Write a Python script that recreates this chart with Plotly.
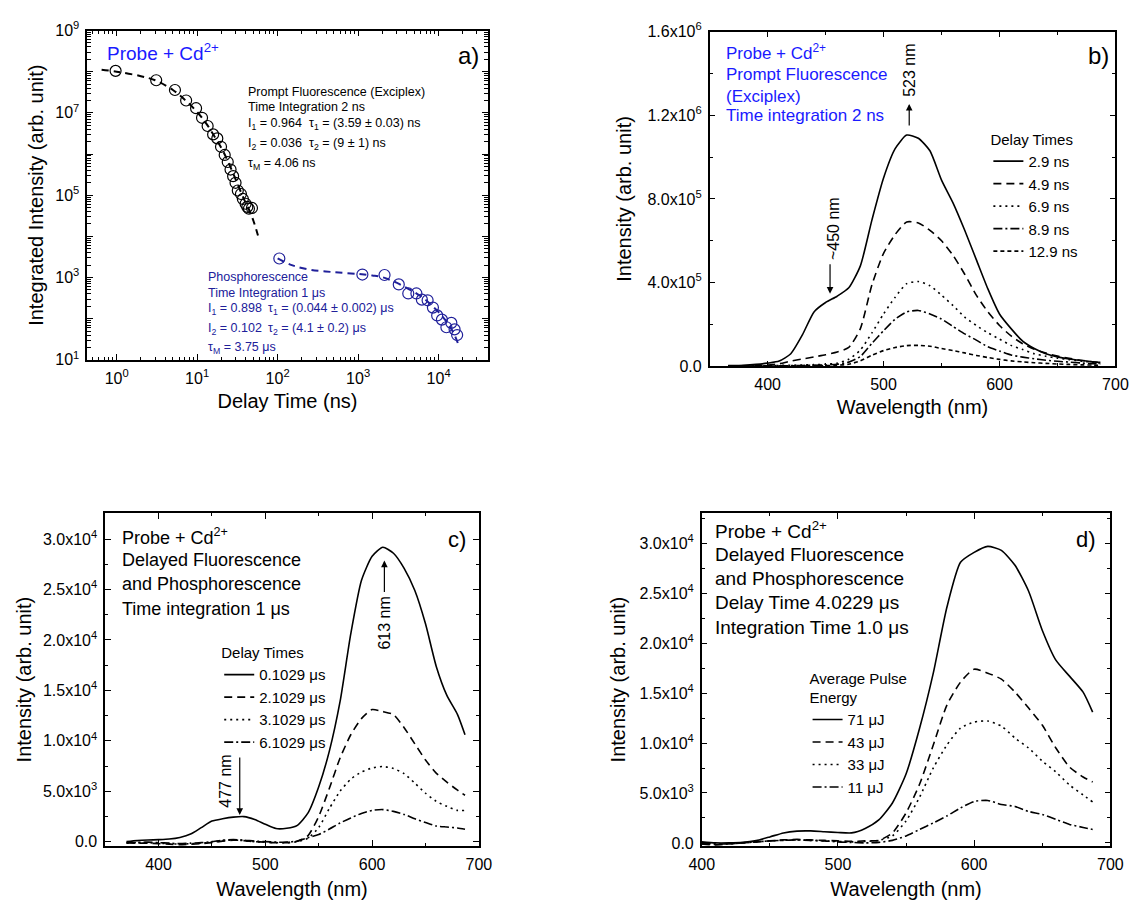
import plotly.graph_objects as go

W, H = 1147, 908
FONT = "Liberation Sans, Arial, Helvetica, sans-serif"
BLUE = "#1a1aff"
NAVY = "#20209a"

# ---------------- Panel a: decay curves ----------------
t_prompt = [0.97, 3.1, 5.3, 7.3, 9.7, 11.5, 13.5, 15.8, 17.8, 19.8, 22, 24, 26, 28, 30,
            32, 35, 37, 40, 42, 44, 48]
I_prompt = [1.05e8, 6.2e7, 3.6e7, 2.0e7, 1.3e7, 7.6e6, 4.8e6, 3.0e6, 2.4e6, 1.5e6, 9.5e5,
            6.4e5, 4.2e5, 2.9e5, 2.0e5, 1.3e5, 1.07e5, 8.1e4, 6.2e4, 5.2e4, 4.7e4, 4.9e4]
t_fit_prompt = [0.65, 1, 2, 3, 5, 7, 10, 13, 16, 20, 24, 28, 32, 36, 40, 44, 50, 57]
I_fit_prompt = [1.12e8, 1.0e8, 7.8e7, 6.2e7, 3.6e7, 2.1e7, 1.05e7, 5.5e6, 2.9e6, 1.4e6,
                6.8e5, 3.4e5, 1.8e5, 1.05e5, 6.6e4, 4.5e4, 2.4e4, 1.05e4]

t_phos = [105, 1130, 2130, 3200, 4200, 5300, 6200, 7300, 8500, 9600, 11000, 12500, 14400,
          15800, 17000]
I_phos = [2.9e3, 1.18e3, 1.15e3, 6.8e2, 4.1e2, 4.1e2, 2.9e2, 2.8e2, 1.86e2, 1.2e2, 95, 62,
          79, 55, 40]
t_fit_phos = [100, 150, 250, 500, 1000, 1500, 2000, 3000, 4000, 5000, 6000, 7000, 8000,
              10000, 12000, 14000, 16000, 17800]
I_fit_phos = [2.9e3, 2.0e3, 1.55e3, 1.35e3, 1.22e3, 1.12e3, 1.02e3, 7.5e2, 5.6e2, 4.4e2,
              3.5e2, 2.8e2, 2.2e2, 1.45e2, 9.5e1, 6.2e1, 3.8e1, 2.2e1]

log_tickvals_x = [1, 10, 100, 1000, 10000]
log_ticktext_x = ["10<sup>0</sup>", "10<sup>1</sup>", "10<sup>2</sup>", "10<sup>3</sup>", "10<sup>4</sup>"]
log_tickvals_y = [1e1, 1e2, 1e3, 1e4, 1e5, 1e6, 1e7, 1e8, 1e9]
log_ticktext_y = ["10<sup>1</sup>", "", "10<sup>3</sup>", "", "10<sup>5</sup>", "",
                  "10<sup>7</sup>", "", "10<sup>9</sup>"]

# ---------------- Panel b: prompt fluorescence ----------------
wl_b = [366, 380, 390, 400, 410, 420, 430, 440, 450, 460, 470, 480, 490, 500, 510, 520, 530,
        540, 550, 560, 570, 580, 590, 600, 610, 620, 630, 640, 650, 660, 670, 680, 687]
b_29 = [3e3, 5e3, 9e3, 1.5e4, 2.5e4, 6.0e4, 1.5e5, 2.6e5, 3.05e5, 3.35e5, 3.75e5, 4.8e5,
        7.0e5, 9.0e5, 1.04e6, 1.105e6, 1.09e6, 1.03e6, 8.9e5, 7.8e5, 6.5e5, 5.1e5, 3.7e5,
        2.5e5, 1.8e5, 1.2e5, 8.5e4, 6.0e4, 4.5e4, 3.5e4, 2.8e4, 2.2e4, 1.9e4]
b_49 = [2e3, 3e3, 4e3, 6e3, 1.2e4, 2.5e4, 3.5e4, 4.5e4, 5.5e4, 6.8e4, 9e4, 1.8e5, 3.9e5,
        5.4e5, 6.3e5, 6.9e5, 6.85e5, 6.5e5, 6.0e5, 5.3e5, 4.4e5, 3.4e5, 2.6e5, 1.95e5, 1.45e5,
        1.08e5, 8.2e4, 6.3e4, 4.9e4, 3.8e4, 2.9e4, 2.2e4, 1.8e4]
b_69 = [1e3, 1e3, 2e3, 3e3, 4e3, 5e3, 6e3, 8e3, 1.0e4, 1.5e4, 3.4e4, 7.8e4, 1.6e5, 2.5e5,
        3.3e5, 3.95e5, 4.05e5, 3.85e5, 3.4e5, 2.9e5, 2.35e5, 1.95e5, 1.6e5, 1.3e5, 1.0e5,
        8.0e4, 6.0e4, 4.8e4, 3.9e4, 3.2e4, 2.5e4, 2.0e4, 1.6e4]
b_89 = [1e3, 1e3, 1e3, 2e3, 2e3, 3e3, 4e3, 5e3, 6e3, 1.0e4, 2.0e4, 4.7e4, 1.1e5, 1.7e5,
        2.25e5, 2.6e5, 2.67e5, 2.5e5, 2.26e5, 1.9e5, 1.55e5, 1.25e5, 9.3e4, 7.3e4, 5.4e4,
        4.4e4, 3.6e4, 2.9e4, 2.4e4, 2.0e4, 1.6e4, 1.3e4, 1.1e4]
b_129 = [0, 0, 1e3, 1e3, 1e3, 2e3, 2e3, 3e3, 3e3, 5e3, 1.0e4, 2.6e4, 5.3e4, 7.5e4, 9.0e4,
         9.9e4, 1.0e5, 9.6e4, 8.5e4, 7.5e4, 6.4e4, 5.2e4, 4.2e4, 3.3e4, 2.6e4, 2.1e4, 1.7e4,
         1.4e4, 1.1e4, 9e3, 7e3, 6e3, 5e3]
b_names = ["2.9 ns", "4.9 ns", "6.9 ns", "8.9 ns", "12.9 ns"]
b_tickvals = [0, 4e5, 8e5, 1.2e6, 1.6e6]
b_ticktext = ["0.0", "4.0x10<sup>5</sup>", "8.0x10<sup>5</sup>", "1.2x10<sup>6</sup>", "1.6x10<sup>6</sup>"]

# ---------------- Panel c: delayed fluorescence vs delay ----------------
wl_c = [370, 380, 390, 400, 410, 420, 430, 440, 450, 460, 470, 480, 490, 500, 510, 520, 530,
        540, 550, 560, 570, 580, 590, 600, 610, 620, 630, 640, 650, 660, 670, 680, 687]
c_01 = [0, 100, 160, 200, 260, 420, 750, 1390, 2040, 2270, 2430, 2480, 2200, 1720, 1300,
        1330, 1620, 2850, 5440, 9000, 13900, 20600, 25900, 28300, 29200, 28600, 27100, 24900,
        21600, 17400, 14500, 12600, 10600]
c_21 = [-100, -150, -150, -200, -250, -300, -250, -200, -100, 50, 150, 100, 0, -50, -100,
        -100, 50, 600, 2500, 5300, 8300, 10600, 12200, 13100, 12900, 12600, 11300, 9700,
        8100, 6800, 5900, 5100, 4600]
c_31 = [-150, -100, -100, -150, -200, -250, -200, -150, -50, 100, 150, 100, 0, -50, -100,
        -100, 0, 350, 1400, 3300, 5000, 6200, 6900, 7300, 7450, 7250, 6750, 5800, 4800, 4000,
        3500, 3100, 3100]
c_61 = [-100, -100, -50, -100, -150, -200, -150, -100, 0, 150, 200, 150, 50, 0, -50, -50, 50,
        400, 700, 1250, 1850, 2350, 2800, 3100, 3180, 3000, 2700, 2270, 1900, 1550, 1450,
        1350, 1230]
c_names = ["0.1029 \u03bcs", "2.1029 \u03bcs", "3.1029 \u03bcs", "6.1029 \u03bcs"]

# ---------------- Panel d: pulse energy ----------------
wl_d = [400, 410, 420, 430, 440, 450, 460, 470, 480, 490, 500, 510, 520, 530, 540, 550, 560,
        570, 580, 590, 600, 610, 620, 630, 640, 650, 660, 670, 680, 687]
d_71 = [100, 0, 0, 50, 230, 600, 1000, 1180, 1200, 1120, 1040, 1000, 1450, 2300, 4000, 6900,
        11500, 17000, 23600, 28100, 29100, 29700, 29300, 27800, 25200, 21300, 18300, 16700,
        15100, 13100]
d_43 = [-100, -200, -100, 0, 100, 200, 300, 350, 300, 250, 200, 150, 200, 250, 1000, 3000,
        5900, 9800, 13800, 16100, 17400, 17000, 16400, 15100, 13500, 11800, 9500, 7600, 6600,
        6100]
d_33 = [-100, -150, -100, 0, 100, 200, 250, 300, 250, 200, 150, 100, 150, 250, 700, 2200,
        4600, 7500, 9800, 11500, 12100, 12200, 11700, 10500, 9500, 8200, 7100, 5800, 4800,
        4100]
d_11 = [0, -100, -100, 0, 100, 200, 250, 300, 250, 200, 100, 50, 0, 50, 250, 700, 1350, 2000,
        2700, 3500, 4150, 4250, 3850, 3650, 3150, 2850, 2350, 1850, 1550, 1350]
d_names = ["71 \u03bcJ", "43 \u03bcJ", "33 \u03bcJ", "11 \u03bcJ"]

cd_tickvals = [0, 5000, 10000, 15000, 20000, 25000, 30000]
cd_ticktext = ["0.0", "5.0x10<sup>3</sup>", "1.0x10<sup>4</sup>", "1.5x10<sup>4</sup>",
               "2.0x10<sup>4</sup>", "2.5x10<sup>4</sup>", "3.0x10<sup>4</sup>"]
wl_tickvals = [400, 500, 600, 700]

DASHES = ["solid", "8px,5px", "2px,4px", "9px,3px,2px,3px", "4px,3px"]


def fx(x):
    return x / W


def fy(y):
    return 1 - y / H


fig = go.Figure()

# panel a
fig.add_trace(go.Scatter(x=t_fit_prompt, y=I_fit_prompt, mode="lines", xaxis="x", yaxis="y",
                         line=dict(color="black", width=2, dash="7px,5px", shape="spline"),
                         showlegend=False))
fig.add_trace(go.Scatter(x=t_prompt, y=I_prompt, mode="markers", xaxis="x", yaxis="y",
                         marker=dict(symbol="circle-open", size=11, color="black",
                                     line=dict(width=1.2, color="black")),
                         showlegend=False))
fig.add_trace(go.Scatter(x=t_fit_phos, y=I_fit_phos, mode="lines", xaxis="x", yaxis="y",
                         line=dict(color=NAVY, width=2, dash="7px,5px", shape="spline"),
                         showlegend=False))
fig.add_trace(go.Scatter(x=t_phos, y=I_phos, mode="markers", xaxis="x", yaxis="y",
                         marker=dict(symbol="circle-open", size=11, color=NAVY,
                                     line=dict(width=1.2, color=NAVY)),
                         showlegend=False))

# panel b
for ys, nm, ds in zip([b_29, b_49, b_69, b_89, b_129], b_names, DASHES):
    fig.add_trace(go.Scatter(x=wl_b, y=ys, name=nm, mode="lines", xaxis="x2", yaxis="y2",
                             line=dict(color="black", width=1.6, dash=ds, shape="spline",
                                       smoothing=0.6),
                             legend="legend"))

# panel c
for ys, nm, ds in zip([c_01, c_21, c_31, c_61], c_names, DASHES[:4]):
    fig.add_trace(go.Scatter(x=wl_c, y=ys, name=nm, mode="lines", xaxis="x3", yaxis="y3",
                             line=dict(color="black", width=1.6, dash=ds, shape="spline",
                                       smoothing=0.6),
                             legend="legend2"))

# panel d
for ys, nm, ds in zip([d_71, d_43, d_33, d_11], d_names, DASHES[:4]):
    fig.add_trace(go.Scatter(x=wl_d, y=ys, name=nm, mode="lines", xaxis="x4", yaxis="y4",
                             line=dict(color="black", width=1.6, dash=ds, shape="spline",
                                       smoothing=0.6),
                             legend="legend3"))

common = dict(showline=True, linecolor="black", linewidth=1.5, mirror="allticks",
              ticks="inside", ticklen=6, tickwidth=1.2, tickcolor="black",
              showgrid=False, zeroline=False,
              tickfont=dict(size=16, color="black", family=FONT),
              title_font=dict(size=20, color="black", family=FONT),
              ticklabelstandoff=3)
minor_lin = dict(ticks="inside", ticklen=3.5, tickwidth=1, tickcolor="black", showgrid=False)

log_minor_x = [m * 10 ** e for e in range(-1, 5) for m in range(2, 10)]
log_minor_y = [m * 10 ** e for e in range(1, 9) for m in range(2, 10)]

leg_common = dict(xanchor="left", yanchor="top", bgcolor="rgba(0,0,0,0)",
                  font=dict(size=15, family=FONT, color="black"),
                  itemwidth=30, tracegroupgap=0)

fig.update_layout(
    width=W, height=H, margin=dict(l=0, r=0, t=0, b=0),
    paper_bgcolor="white", plot_bgcolor="white",
    font=dict(family=FONT, color="black"),
    xaxis=dict(common, domain=[fx(76), fx(485.7)], anchor="y", type="log",
               range=[-0.365, 4.61], tickmode="array", tickvals=log_tickvals_x,
               ticktext=log_ticktext_x,
               minor=dict(minor_lin, tickmode="array", tickvals=log_minor_x),
               title=dict(text="Delay Time (ns)", standoff=8)),
    yaxis=dict(common, domain=[fy(356.7), fy(20)], anchor="x", type="log",
               range=[1, 9], tickmode="array", tickvals=log_tickvals_y,
               ticktext=log_ticktext_y,
               minor=dict(minor_lin, tickmode="array", tickvals=log_minor_y),
               title=dict(text="Integrated Intensity (arb. unit)", standoff=6)),
    xaxis2=dict(common, domain=[fx(712.8), fx(1128)], anchor="y2", range=[350, 700],
                tickmode="array", tickvals=wl_tickvals,
                minor=dict(minor_lin, dtick=50, tick0=350),
                title=dict(text="Wavelength (nm)", standoff=8)),
    yaxis2=dict(common, domain=[fy(363.3), fy(21)], anchor="x2", range=[0, 1.6e6],
                tickmode="array", tickvals=b_tickvals, ticktext=b_ticktext,
                minor=dict(minor_lin, dtick=2e5, tick0=0),
                title=dict(text="Intensity (arb. unit)", standoff=10)),
    xaxis3=dict(common, domain=[fx(94.3), fx(476.7)], anchor="y3", range=[350, 700],
                tickmode="array", tickvals=wl_tickvals,
                minor=dict(minor_lin, dtick=50, tick0=350),
                title=dict(text="Wavelength (nm)", standoff=10)),
    yaxis3=dict(common, domain=[fy(854), fy(513.3)], anchor="x3", range=[-450, 32590],
                tickmode="array", tickvals=cd_tickvals, ticktext=cd_ticktext,
                minor=dict(minor_lin, dtick=2500, tick0=0),
                title=dict(text="Intensity (arb. unit)", standoff=6)),
    xaxis4=dict(common, domain=[fx(704.7), fx(1122.8)], anchor="y4", range=[400, 700],
                tickmode="array", tickvals=wl_tickvals,
                minor=dict(minor_lin, dtick=50, tick0=400),
                title=dict(text="Wavelength (nm)", standoff=10)),
    yaxis4=dict(common, domain=[fy(854), fy(513.3)], anchor="x4", range=[-330, 33040],
                tickmode="array", tickvals=cd_tickvals, ticktext=cd_ticktext,
                minor=dict(minor_lin, dtick=2500, tick0=0),
                title=dict(text="Intensity (arb. unit)", standoff=8)),
    legend=dict(leg_common, x=fx(998), y=fy(117),
                title=dict(text="Delay Times", font=dict(size=15, family=FONT))),
    legend2=dict(leg_common, x=fx(211), y=fy(642),
                 title=dict(text="Delay Times", font=dict(size=15, family=FONT))),
    legend3=dict(leg_common, x=fx(813), y=fy(668),
                 title=dict(text="Average Pulse<br>Energy", font=dict(size=15, family=FONT))),
)

ann = []


def T(text, x, y, size, color="black", xanchor="left", angle=0):
    ann.append(dict(text=text, x=fx(x), y=fy(y), xref="paper", yref="paper",
                    xanchor=xanchor, yanchor="middle", showarrow=False, textangle=angle,
                    font=dict(size=size, color=color, family=FONT)))


def A(x_tip, y_tip, dy):
    ann.append(dict(text="", x=fx(x_tip), y=fy(y_tip), xref="paper", yref="paper",
                    ax=0, ay=dy, showarrow=True, arrowhead=2, arrowsize=1.1,
                    arrowwidth=1.2, arrowcolor="black"))


SA = 12.5
# panel a texts
T("Probe + Cd<sup>2+</sup>", 94, 42, 19, BLUE)
T("a)", 453, 45, 24)
T("Prompt Fluorescence (Exciplex)", 238, 83, SA)
T("Time Integration 2 ns", 238, 98, SA)
T("I<sub>1</sub> = 0.964", 238, 116, SA)
T("\u03c4<sub>1</sub> = (3.59 \u00b1 0.03) ns", 301, 116, SA)
T("I<sub>2</sub> = 0.036", 238, 136, SA)
T("\u03c4<sub>2</sub> = (9 \u00b1 1) ns", 301, 136, SA)
T("\u03c4<sub>M</sub> = 4.06 ns", 238, 156, SA)
T("Phosphorescence", 197, 272, SA, NAVY)
T("Time Integration 1 \u03bcs", 197, 288, SA, NAVY)
T("I<sub>1</sub> = 0.898", 197, 305, SA, NAVY)
T("\u03c4<sub>1</sub> = (0.044 \u00b1 0.002) \u03bcs", 259, 305, SA, NAVY)
T("I<sub>2</sub> = 0.102", 197, 325, SA, NAVY)
T("\u03c4<sub>2</sub> = (4.1 \u00b1 0.2) \u03bcs", 259, 325, SA, NAVY)
T("\u03c4<sub>M</sub> = 3.75 \u03bcs", 197, 345, SA, NAVY)

# panel b texts
T("Probe + Cd<sup>2+</sup>", 727, 42, 17, BLUE)
T("Prompt Fluorescence", 727, 65, 17, BLUE)
T("(Exciplex)", 727, 87, 17, BLUE)
T("Time integration 2 ns", 727, 107, 17, BLUE)
T("b)", 1098, 45, 24)
T("523 nm", 917, 61, 16, xanchor="center", angle=-90)
A(917, 95, 23)
T("~450 nm", 839, 222, 16, xanchor="center", angle=-90)
A(836, 289, -31)

# panel c texts
T("Probe + Cd<sup>2+</sup>", 109, 537, 18)
T("Delayed Fluorescence", 109, 561, 18)
T("and Phosphorescence", 109, 586, 18)
T("Time integration 1 \u03bcs", 109, 611, 18)
T("c)", 443, 540, 22)
T("613 nm", 380, 626, 16, xanchor="center", angle=-90)
A(380, 562, 33)
T("477 nm", 218, 788, 16, xanchor="center", angle=-90)
A(232, 822, -59)

# panel d texts
T("Probe + Cd<sup>2+</sup>", 716, 531, 19)
T("Delayed Fluorescence", 716, 556, 19)
T("and Phosphorescence", 716, 580, 19)
T("Delay Time 4.0229 \u03bcs", 716, 605, 19)
T("Integration Time 1.0 \u03bcs", 716, 630, 19)
T("d)", 1086, 540, 22)

fig.update_layout(annotations=ann)
fig.write_html("out.html")
